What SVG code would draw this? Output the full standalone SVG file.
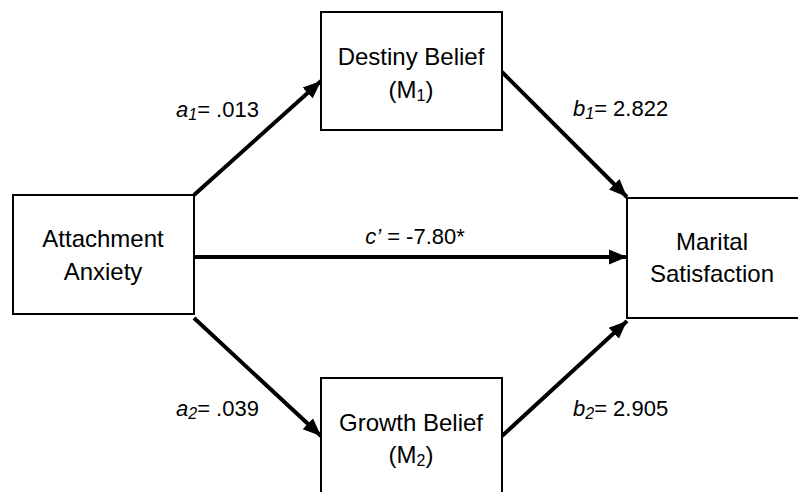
<svg xmlns="http://www.w3.org/2000/svg" width="798" height="492" viewBox="0 0 798 492">
<defs>
<marker id="ah" markerUnits="userSpaceOnUse" markerWidth="20" markerHeight="18" refX="18" refY="9" orient="auto">
<path d="M0,1.5 L18,9 L0,16.5 z" fill="#000"/>
</marker>
<style>
.box{fill:#fff;stroke:#000;stroke-width:2}
.t{font-family:"Liberation Sans",Arial,sans-serif;font-size:24px;fill:#000;text-anchor:middle}
.l{font-family:"Liberation Sans",Arial,sans-serif;font-size:22px;fill:#000}
.e{stroke:#000;stroke-width:4;fill:none;marker-end:url(#ah)}
</style>
</defs>
<rect width="798" height="492" fill="#fff"/>
<g id="connectors">
<line class="e" x1="194" y1="195" x2="321" y2="81"/>
<line class="e" x1="502" y1="72" x2="627" y2="197"/>
<line class="e" x1="194" y1="257" x2="627" y2="257"/>
<line class="e" x1="194" y1="318" x2="321" y2="436"/>
<line class="e" x1="502" y1="436" x2="627" y2="321"/>
</g>
<g id="attachment">
<rect class="box" x="13" y="195" width="181" height="119"/>
<text class="t" x="103" y="247">Attachment</text>
<text class="t" x="103" y="280">Anxiety</text>
</g>
<g id="destiny">
<rect class="box" x="321" y="12" width="181" height="118"/>
<text class="t" x="411" y="65">Destiny Belief</text>
<text class="t" x="411" y="98">(M<tspan font-size="16" dy="3">1</tspan><tspan dy="-3">)</tspan></text>
</g>
<g id="marital">
<rect class="box" x="627" y="198" width="172" height="120"/>
<text class="t" x="712" y="250">Marital</text>
<text class="t" x="712" y="282">Satisfaction</text>
</g>
<g id="growth">
<rect class="box" x="321" y="378" width="181" height="130"/>
<text class="t" x="411" y="431">Growth Belief</text>
<text class="t" x="411" y="463">(M<tspan font-size="16" dy="3">2</tspan><tspan dy="-3">)</tspan></text>
</g>
<g id="labels">
<text class="l" x="176" y="117"><tspan font-style="italic">a</tspan><tspan font-style="italic" font-size="16" dy="3">1</tspan><tspan dy="-3">= .013</tspan></text>
<text class="l" x="176" y="416"><tspan font-style="italic">a</tspan><tspan font-style="italic" font-size="16" dy="3">2</tspan><tspan dy="-3">= .039</tspan></text>
<text class="l" x="573" y="116"><tspan font-style="italic">b</tspan><tspan font-style="italic" font-size="16" dy="3">1</tspan><tspan dy="-3">= 2.822</tspan></text>
<text class="l" x="573" y="416"><tspan font-style="italic">b</tspan><tspan font-style="italic" font-size="16" dy="3">2</tspan><tspan dy="-3">= 2.905</tspan></text>
<text class="l" x="415" y="244" text-anchor="middle"><tspan font-style="italic">c’</tspan> = -7.80*</text>
</g>
</svg>
